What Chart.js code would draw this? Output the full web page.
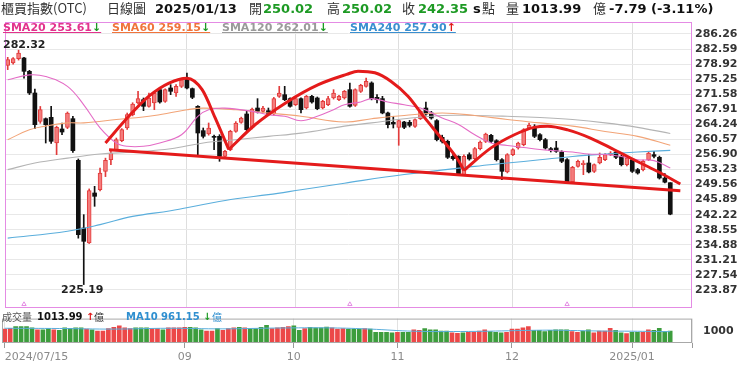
<!DOCTYPE html>
<html lang="zh-Hant">
<head>
<meta charset="UTF-8">
<title>櫃買指數(OTC) 日線圖</title>
<script src="https://cdn.jsdelivr.net/npm/chart.js"></script>
<style>
    body { margin: 0; width: 740px; height: 365px; background: #fff; position: relative; overflow: hidden; font-family: "DejaVu Sans", sans-serif; }
    .t { position: absolute; white-space: nowrap; line-height: 15px; }
    .cj { font-family: "Noto Sans CJK TC", sans-serif; font-size: 13px; color: #333; top: 0px; }
    .hb { font-weight: bold; font-size: 13px; color: #111; top: 1px; }
    .g { color: #1d9a24; }
    .lg { font-weight: bold; font-size: 11px; top: 21px; line-height: 13px; text-decoration: underline; }
    .vl { font-size: 10px; top: 311px; line-height: 12px; }
    .mk { font-weight: bold; font-size: 11px; color: #222; line-height: 13px; }
    #mainWrap { position: absolute; left: 0; top: 0; }
    #volWrap { position: absolute; left: 0; top: 309px; }
</style>
</head>
<body>
<div id="mainWrap"><canvas id="main" width="740" height="365"></canvas></div>
<div id="volWrap"><canvas id="vol" width="740" height="56"></canvas></div>

<!-- header -->
<div class="t cj" style="left:1px">櫃買指數(OTC)</div>
<div class="t cj" style="left:107px">日線圖</div>
<div class="t hb" style="left:155px">2025/01/13</div>
<div class="t cj" style="left:249px">開</div>
<div class="t hb g" style="left:263px">250.02</div>
<div class="t cj" style="left:327px">高</div>
<div class="t hb g" style="left:342px">250.02</div>
<div class="t cj" style="left:402px">收</div>
<div class="t hb g" style="left:418px">242.35</div>
<div class="t hb" style="left:473px">s</div>
<div class="t cj" style="left:482px">點</div>
<div class="t cj" style="left:506px">量</div>
<div class="t hb" style="left:522px">1013.99</div>
<div class="t cj" style="left:593px">億</div>
<div class="t hb" style="left:609px">-7.79 (-3.11%)</div>

<!-- moving average legend -->
<div class="t lg" style="left:3px;color:#e2338d">SMA20 253.61<span style="color:#1d9a24">↓</span></div>
<div class="t lg" style="left:112px;color:#f0743c">SMA60 259.15<span style="color:#1d9a24">↓</span></div>
<div class="t lg" style="left:222px;color:#9a9a9a">SMA120 262.01<span style="color:#1d9a24">↓</span></div>
<div class="t lg" style="left:350px;color:#3a8fd0">SMA240 257.90<span style="color:#e01818">↑</span></div>

<!-- volume legend -->
<div class="t vl" style="left:2px;color:#555;font-family:'Noto Sans CJK TC',sans-serif">成交量</div>
<div class="t vl" style="left:37px;font-weight:bold;color:#111">1013.99</div>
<div class="t vl" style="left:86px;font-weight:bold;color:#e01818">↑</div>
<div class="t vl" style="left:94px;color:#333;font-family:'Noto Sans CJK TC',sans-serif">億</div>
<div class="t vl" style="left:126px;font-weight:bold;color:#2f8fd0">MA10 961.15</div>
<div class="t vl" style="left:203px;font-weight:bold;color:#1d9a24">↓</div>
<div class="t vl" style="left:212px;color:#2f8fd0;font-family:'Noto Sans CJK TC',sans-serif">億</div>

<!-- high / low marks -->
<div class="t mk" style="left:3px;top:38px">282.32</div>
<div class="t mk" style="left:61px;top:283px">225.19</div>

<script>
// daily candles, 2024/07/15 .. 2025/01/13 (index = trading day)
const opens = [
    278.62,279.19,280.25,280.41,277.16,271.88,264.97,265.62,265.95,259.69,
    263.11,263.51,265.62,255.47,238.98,235.32,247.51,248.32,252.79,255.63,
    258.07,260.26,263.35,266.60,269.44,270.25,268.63,269.44,272.69,269.85,
    273.10,271.88,273.50,275.53,272.94,268.63,262.70,261.89,261.32,261.32,
    256.44,258.07,262.54,264.73,266.76,263.35,268.22,267.41,267.57,266.76,
    271.07,271.47,270.50,269.04,270.50,268.22,271.07,270.66,268.22,269.04,
    270.66,270.25,270.66,272.69,268.87,272.29,273.50,274.32,270.82,270.50,
    267.01,264.73,263.51,264.80,264.73,263.76,265.62,268.22,267.00,265.14,
    261.08,260.10,256.45,256.45,251.98,256.85,255.88,258.31,260.10,261.56,
    260.26,255.63,252.63,256.85,258.48,259.29,263.35,263.35,261.72,260.50,
    258.31,258.48,257.50,255.63,250.19,254.01,254.41,254.82,252.79,254.82,
    255.63,256.85,257.50,256.45,254.41,255.63,253.20,253.20,255.63,256.85,
    256.20,251.16,250.02
];
const highs = [
    280.57,280.50,282.32,280.60,277.40,272.85,268.60,265.80,268.63,263.80,
    264.57,267.25,266.20,255.80,242.23,248.50,249.13,253.60,256.00,257.80,
    260.90,263.20,267.00,269.50,272.29,270.66,271.88,272.10,273.00,272.90,
    273.91,273.91,275.50,276.75,273.10,268.80,263.35,264.57,261.60,261.72,
    257.90,262.80,264.90,266.00,267.41,268.20,270.50,268.63,268.22,270.80,
    273.50,273.50,270.70,270.70,270.70,271.30,271.30,270.90,270.10,271.07,
    272.69,271.30,272.50,274.32,272.90,274.00,275.53,274.60,271.47,271.07,
    267.20,266.20,265.40,265.00,265.20,265.60,267.70,269.69,267.40,265.40,
    261.60,260.40,256.90,256.60,256.80,257.30,258.60,260.20,262.10,261.80,
    260.50,255.90,257.10,258.30,259.90,263.20,264.57,264.16,262.00,260.80,
    258.60,260.10,257.80,255.90,254.00,255.50,255.40,256.85,254.60,257.26,
    257.10,257.60,257.80,256.70,256.30,255.90,253.50,255.50,257.66,257.66,
    256.50,252.22,250.02
];
const lows = [
    277.57,278.90,279.90,275.50,271.50,263.20,264.50,259.69,259.60,256.85,
    261.72,263.20,257.40,236.50,225.19,235.20,244.26,248.00,251.50,254.41,
    257.80,260.00,263.00,266.30,269.20,267.57,268.40,267.82,269.40,269.60,
    271.47,271.07,273.20,272.90,270.50,256.85,260.90,261.60,258.07,255.23,
    256.20,257.80,262.30,264.50,262.70,263.10,267.00,267.00,266.44,266.50,
    270.80,270.00,268.40,268.80,267.01,268.00,269.40,267.80,268.00,268.80,
    270.40,270.00,270.40,268.40,268.60,272.00,273.30,270.20,269.44,266.80,
    263.35,263.35,259.13,263.20,263.60,263.50,265.40,266.50,265.50,260.20,
    259.70,255.90,255.50,251.80,251.70,255.50,255.60,258.00,259.80,259.80,
    255.30,250.76,252.40,256.60,258.20,259.00,263.10,261.00,260.20,258.20,
    257.50,257.40,254.90,249.90,250.00,253.80,251.98,252.40,252.50,254.60,
    255.40,256.60,255.90,254.10,254.10,252.50,252.10,252.90,255.40,256.04,
    250.90,249.95,242.20
];
const closes = [
    280.00,280.25,281.63,277.16,271.88,264.16,267.82,264.16,260.10,263.51,
    262.37,267.01,257.83,237.35,235.73,248.08,246.70,252.38,255.47,257.26,
    260.51,262.94,266.60,269.20,270.50,268.63,270.66,271.88,269.69,272.69,
    272.29,273.50,275.13,273.10,270.82,262.13,261.32,263.35,261.07,256.44,
    257.66,262.54,264.57,265.79,262.94,267.98,267.41,268.22,266.60,270.50,
    271.88,270.25,268.63,270.50,267.82,271.07,269.69,268.06,269.85,270.50,
    271.88,271.07,272.29,268.63,272.69,273.75,274.72,270.50,270.25,267.01,
    264.16,264.32,265.14,263.51,264.00,265.38,267.41,266.76,265.79,260.50,
    260.10,256.20,255.88,252.22,256.45,255.80,258.31,259.94,261.89,260.10,
    255.63,252.79,256.85,258.07,259.70,262.94,264.00,261.32,260.50,258.48,
    257.83,257.66,255.23,250.19,253.76,255.23,254.82,252.63,254.41,256.20,
    256.85,257.26,256.20,254.41,256.04,252.79,252.38,255.23,257.26,256.45,
    251.16,250.14,242.35
];

// volume (億) and bar colour (1 = red, 0 = green)
const volumes = [
    1175,1239,1387,1387,1387,1282,1111,1111,1218,1111,
    1068,1282,1239,1282,1282,1175,1111,1004,1004,1218,
    1323,1451,1282,1218,1282,1282,1282,1218,1218,1111,
    1282,1282,1282,1323,1323,1282,1111,1004,1004,1218,
    1068,1218,1282,1323,1282,1218,1218,1323,1494,1218,
    1282,1323,1387,1451,1068,1218,1323,1282,1282,1344,
    1282,1175,1218,1175,1175,1175,1218,1175,898,898,
    898,855,898,898,898,1111,1068,1218,1111,1111,
    1004,1004,855,812,855,898,898,1004,1111,962,
    898,855,898,1175,1175,1282,1387,1068,1068,962,
    1068,1111,1111,1111,962,898,1004,1111,855,1004,
    1004,1239,1068,855,791,898,898,898,1111,1068,
    1239,962,1013.99
];
const volRed = [
    1,1,0,0,0,0,1,0,0,1, 0,0,0,0,0,1,0,1,1,1,
    1,1,1,1,0,0,0,1,1,0, 1,1,1,1,0,0,0,1,1,0,
    1,1,1,0,1,0,0,0,0,1, 1,1,1,0,0,1,0,0,0,0,
    1,1,1,0,0,0,1,0,0,0, 0,0,1,0,0,1,1,0,0,0,
    0,0,1,1,0,1,1,1,1,0, 0,0,1,1,1,1,1,0,0,0,
    0,0,0,0,1,1,0,0,1,1, 1,1,0,0,1,0,0,1,1,0,
    0,0,0
];

// moving averages: [day index, value]
const sma20 = [[0,275.1],[4,276.3],[7,275.9],[11,273.5],[14,269.0],[17,263.4],[20,259.7],[22,258.9],[25,258.9],[28,259.7],[32,261.7],[35,266.2],[37,267.8],[40,268.2],[45,267.4],[48,266.6],[51,266.2],[54,265.1],[57,266.2],[60,267.8],[62,269.0],[65,269.7],[67,270.5],[70,269.7],[73,269.0],[76,268.2],[80,265.8],[83,264.2],[86,261.7],[89,259.7],[92,259.1],[95,258.6],[98,258.1],[101,257.8],[104,257.5],[107,257.0],[110,256.9],[113,256.4],[116,255.6],[119,255.4],[122,253.61]];
const sma60 = [[0,260.5],[4,262.9],[7,263.8],[11,264.6],[14,264.6],[20,265.4],[27,266.4],[33,267.8],[36,268.2],[42,267.8],[48,267.0],[54,266.2],[62,264.8],[67,265.6],[73,266.4],[80,267.0],[86,266.4],[92,265.4],[98,264.6],[104,263.8],[110,262.5],[116,261.3],[122,259.15]];
const sma120 = [[0,253.2],[5,254.8],[11,256.0],[17,257.0],[23,257.5],[30,258.3],[36,259.7],[42,260.5],[48,261.3],[54,262.1],[62,263.8],[67,264.6],[73,265.6],[80,266.4],[86,266.4],[92,266.2],[98,265.9],[104,265.4],[110,264.6],[116,263.5],[122,262.01]];
const sma240 = [[0,236.5],[11,238.2],[17,239.8],[23,241.8],[30,243.2],[36,244.7],[42,246.1],[48,247.1],[54,248.3],[62,249.9],[73,252.0],[86,254.0],[92,254.8],[98,255.6],[104,256.4],[110,257.0],[116,257.5],[122,257.9]];
const volMa10 = [[0,1250],[10,1230],[20,1180],[30,1250],[40,1200],[50,1270],[60,1280],[67,1180],[75,1000],[85,980],[95,1060],[100,1090],[105,1050],[110,1010],[115,1000],[122,961.15]];

// hand-drawn pattern lines (head & shoulders + neckline)
const neckline = [[18.66,258.06],[123.85,248.07]];
const leftShoulder = [[18.0,259.7],[22.3,266.2],[26.0,271.1],[29.7,274.3],[33.0,275.5],[35.8,272.7],[38.2,265.8],[40.7,258.1]];
const headArc = [[40.7,258.1],[45.6,264.2],[51.1,269.4],[57.2,273.9],[62.4,276.4],[64.5,277.2],[67.6,276.8],[70.6,274.7],[73.7,271.1],[76.8,265.8],[79.8,260.9],[82.9,255.6],[84.0,253.0]];
const rightShoulder = [[84.0,253.0],[89.0,258.5],[93.3,261.7],[96.9,263.5],[99.4,263.8],[103.1,262.9],[107.3,260.9],[111.6,258.1],[115.3,255.6],[119.6,252.8],[123.85,249.7]];

// small event markers on the bottom edge of the price panel
const eventDays = [3, 63, 103];

// axes
const priceTicks = [286.26,282.59,278.92,275.25,271.58,267.91,264.24,260.57,256.90,253.23,249.56,245.89,242.22,238.55,234.88,231.21,227.54,223.87];
const monthTicks = [0, 33, 53, 72, 93, 115, 126];
const monthLabels = ['2024/07/15', '09', '10', '11', '12', '2025/01', ''];
const yMin = 219.48, yMax = 289.18;

const RED = '#e41b1b';
const xy = arr => arr.map(([x, y]) => ({ x, y }));
const days = opens.map((_, i) => i);
const up = days.filter(i => closes[i] >= opens[i]);
const dn = days.filter(i => closes[i] < opens[i]);

Chart.defaults.font.family = 'DejaVu Sans';

const framePlugin = {
    id: 'frame',
    afterDraw(chart, args, opts) {
        const { ctx, chartArea: a } = chart;
        ctx.save();
        ctx.strokeStyle = opts.color;
        ctx.lineWidth = 1;
        ctx.strokeRect(a.left + 0.5, a.top + 0.5, a.right - a.left - 1, a.bottom - a.top - 1);
        ctx.restore();
    }
};

function lineSet(data, color, width, order, mode) {
    return {
        type: 'line', data: xy(data), borderColor: color, borderWidth: width,
        pointRadius: 0, order: order, cubicInterpolationMode: mode || 'default', tension: 0.4
    };
}

function barSet(data, bg, border, bw, thick, order) {
    return {
        type: 'bar', data: data, backgroundColor: bg, borderColor: border, borderWidth: bw,
        borderSkipped: false, barThickness: thick, grouped: false, minBarLength: 1, order: order
    };
}

new Chart(document.getElementById('main'), {
    type: 'bar',
    data: {
        datasets: [
            { type: 'line', data: xy(neckline), borderColor: RED, borderWidth: 3, pointRadius: 0, order: 0 },
            lineSet(leftShoulder, RED, 3, 0, 'monotone'),
            lineSet(headArc, RED, 3, 0, 'monotone'),
            lineSet(rightShoulder, RED, 3, 0, 'monotone'),
            lineSet(sma20, '#e46cc6', 1.1, 1),
            lineSet(sma60, '#f2a477', 1.1, 1),
            lineSet(sma120, '#b4b4b4', 1.1, 1),
            lineSet(sma240, '#5aaedc', 1.1, 1),
            {
                type: 'scatter', order: 0, data: eventDays.map(i => ({ x: i, y: yMin + 0.9 })),
                pointStyle: 'triangle', pointRadius: 2.5, borderWidth: 1,
                borderColor: '#e48be4', backgroundColor: '#fff'
            },
            barSet(up.map(i => ({ x: i, y: [opens[i], closes[i]] })), '#f47c7c', '#e23b3b', 1, 4, 2),
            barSet(dn.map(i => ({ x: i, y: [opens[i], closes[i]] })), '#111', '#111', 0, 4, 2),
            barSet(up.map(i => ({ x: i, y: [lows[i], highs[i]] })), '#e23b3b', '#e23b3b', 0, 1, 3),
            barSet(dn.map(i => ({ x: i, y: [lows[i], highs[i]] })), '#111', '#111', 0, 1, 3)
        ]
    },
    options: {
        responsive: false,
        animation: false,
        events: [],
        layout: { padding: { left: 2, top: 22, right: 0, bottom: 57 } },
        plugins: { legend: { display: false }, tooltip: { enabled: false }, frame: { color: '#e48be4' } },
        scales: {
            x: {
                type: 'linear', min: -0.5, max: 126, offset: false,
                afterFit: s => { s.height = 0; },
                afterBuildTicks: s => { s.ticks = monthTicks.slice(1, -1).map(v => ({ value: v })); },
                ticks: { display: false },
                grid: { color: '#dedede', drawTicks: false, offset: false },
                border: { display: false }
            },
            y: {
                position: 'right', min: yMin, max: yMax,
                afterFit: s => { s.width = 48; },
                afterBuildTicks: s => { s.ticks = priceTicks.map(v => ({ value: v })); },
                ticks: {
                    autoSkip: false, padding: 3, color: '#333',
                    font: { size: 11, weight: 'bold' },
                    callback: v => v.toFixed(2)
                },
                grid: { color: '#e8e8e8', drawTicks: false },
                border: { display: false }
            }
        }
    },
    plugins: [framePlugin]
});

new Chart(document.getElementById('vol'), {
    type: 'bar',
    data: {
        datasets: [
            { type: 'line', data: xy(volMa10), borderColor: '#5aaedc', borderWidth: 1, pointRadius: 0, tension: 0.4, order: 0 },
            {
                type: 'bar', order: 1, barThickness: 4,
                data: days.map(i => ({ x: i, y: volumes[i] })),
                backgroundColor: days.map(i => volRed[i] ? '#ec4848' : '#3d9d3d')
            }
        ]
    },
    options: {
        responsive: false,
        animation: false,
        events: [],
        layout: { padding: { left: 2, top: 2, right: 0, bottom: 0 } },
        plugins: { legend: { display: false }, tooltip: { enabled: false }, frame: { color: '#a8a8a8' } },
        scales: {
            x: {
                type: 'linear', min: -0.5, max: 126, offset: false,
                afterFit: s => { s.height = 22; },
                afterBuildTicks: s => { s.ticks = monthTicks.map(v => ({ value: v })); },
                ticks: {
                    autoSkip: false, maxRotation: 0, align: 'inner', padding: 3, color: '#8a8a8a',
                    font: { size: 11 },
                    callback: (v, i) => monthLabels[i]
                },
                grid: { color: '#e2e2e2', tickColor: '#999', tickLength: 5, offset: false },
                border: { display: false }
            },
            y: {
                position: 'right', min: 0, max: 2070,
                afterFit: s => { s.width = 48; },
                afterBuildTicks: s => { s.ticks = [{ value: 1000 }]; },
                ticks: { padding: 3, color: '#333', font: { size: 11, weight: 'bold' }, callback: v => String(v) },
                grid: { display: false },
                border: { display: false }
            }
        }
    },
    plugins: [framePlugin]
});
</script>
</body>
</html>
